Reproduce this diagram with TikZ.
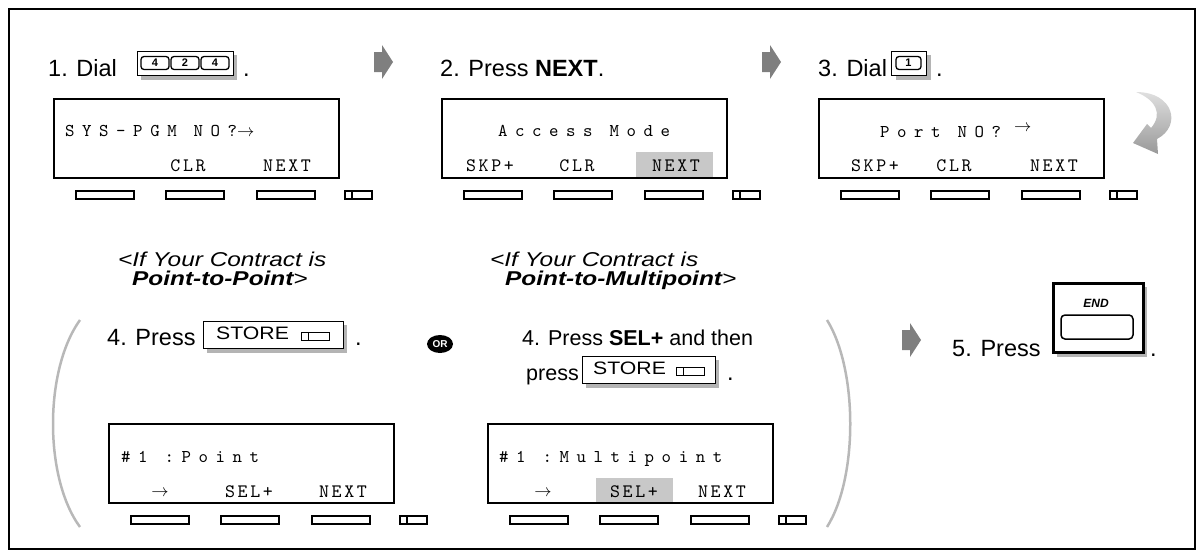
\documentclass[tikz,border=0pt]{standalone}
\usepackage{fontspec}
\setmainfont{Liberation Sans}
\newfontfamily\labelfont{Liberation Sans}[FakeStretch=1.22]
\newfontfamily\storefont{Liberation Sans}[FakeStretch=1.18]
\newfontfamily\lcdfont{lmmono10-regular}[Extension=.otf,LetterSpace=42]
\newfontfamily\lcdkeyfont{lmmono10-regular}[Extension=.otf,LetterSpace=14]
\usetikzlibrary{shapes.geometric}
\definecolor{shadowgray}{HTML}{B4B4B4}
\definecolor{hlgray}{HTML}{C8C8C8}
\definecolor{arrowgray}{HTML}{7F7F7F}
\definecolor{parengray}{HTML}{B8B8B8}
\newcommand\softkeyrow[2]{%
  \foreach \a/\b in {23/81,113/171,204/262}{%
    \draw[btn] ({#1+\a},{#2+14}) rectangle ({#1+\b},{#2+22});}
  \draw[btn] ({#1+292},{#2+14}) rectangle ({#1+319},{#2+22});
  \draw[btn] ({#1+299},{#2+14}) -- ({#1+299},{#2+22});}
\newcommand\blockarrow[2]{%
  \fill[arrowgray] ({#1},{#2-10}) -- ({#1+8},{#2-10}) -- ({#1+8},{#2-17}) -- ({#1+19},{#2}) -- ({#1+8},{#2+17}) -- ({#1+8},{#2+10}) -- ({#1},{#2+10}) -- cycle;}
\newcommand\lcdarrow{{\fontsize{17}{17}\selectfont$\rightarrow$}}
\begin{document}
\begin{tikzpicture}[x=1pt,y=-1pt,
  lcd/.style={draw=black,line width=2.4pt,minimum width=285pt,minimum height=79pt,inner sep=0pt,anchor=north west},
  btn/.style={draw=black,line width=1.3pt},
  lcdtxt/.style={font=\lcdfont\fontsize{18}{18}\selectfont,inner sep=0pt,anchor=base west},
  lcdmid/.style={font=\lcdfont\fontsize{18}{18}\selectfont,inner sep=0pt,anchor=base},
  keylbl/.style={font=\lcdkeyfont\fontsize{19}{19}\selectfont,inner sep=0pt,anchor=base},
  steptxt/.style={font=\fontsize{23.5}{23.5}\selectfont,inner sep=0pt,anchor=base west},
  lbl/.style={font=\labelfont\itshape\fontsize{20}{20}\selectfont,inner sep=0pt,anchor=base west},
  keybox/.style={draw=black,fill=white,line width=1pt,inner sep=0pt,anchor=north west},
  digitkey/.style={draw=black,line width=1.3pt,rounded corners=3pt,minimum width=28pt,minimum height=13pt,inner sep=0pt,font=\bfseries\fontsize{11}{11}\selectfont},
  storetxt/.style={font=\storefont\fontsize{18}{18}\selectfont,inner sep=0pt,anchor=base west},
  paren/.style={draw=parengray,line width=2.5pt},
  orbadge/.style={ellipse,fill=black,text=white,minimum width=26pt,minimum height=18pt,inner sep=0pt,font=\bfseries\fontsize{10}{10}\selectfont}
]
\useasboundingbox (0,0) rectangle (1202,555);
\node[draw=black,line width=1.6pt,minimum width=1186pt,minimum height=540pt,inner sep=0pt,anchor=north west] (frame) at (8,8) {};

% ---------- step 1
\node[steptxt] (s1) at (48,76) {1. Dial};
\fill[shadowgray] (141,55) rectangle (237,80);
\node[keybox,minimum width=96pt,minimum height=24pt] (k1) at (137,51) {};
\node[digitkey] (k1a) at (155,63) {4};
\node[digitkey] (k1b) at (185,63) {2};
\node[digitkey] (k1c) at (215,63) {4};
\node[steptxt] (d1) at (243,76) {.};
\blockarrow{374}{62}

\node[lcd] (lcd1) at (53,98) {};
\node[lcdtxt] (l1t) at (65,136) {SYS-PGM NO?\lcdarrow};
\node[keylbl] (l1k2) at (188,171) {CLR};
\node[keylbl] (l1k3) at (287,171) {NEXT};
\softkeyrow{53}{177}

% ---------- step 2
\node[steptxt] (s2) at (440,76) {2. Press \textbf{NEXT}.};
\blockarrow{762}{62}
\fill[hlgray] (636,152) rectangle (713,177);
\node[lcd] (lcd2) at (441,98) {};
\node[lcdmid] (l2t) at (584,136) {Access Mode};
\node[keylbl] (l2k1) at (490,171) {SKP+};
\node[keylbl] (l2k2) at (577,171) {CLR};
\node[keylbl] (l2k3) at (676,171) {NEXT};
\softkeyrow{441}{177}

% ---------- step 3
\node[steptxt] (s3) at (818,76) {3. Dial};
\fill[shadowgray] (896,55) rectangle (931,80);
\node[keybox,minimum width=35pt,minimum height=24pt] (k3) at (891,51) {};
\node[digitkey,minimum width=25pt] (k3a) at (908.5,63) {1};
\node[steptxt] (d3) at (936,76) {.};

\node[lcd] (lcd3) at (818,98) {};
\node[lcdtxt] (l3t) at (880,137) {Port NO?};
\node[inner sep=0pt,anchor=base west] (l3a) at (1014,131) {\lcdarrow};
\node[keylbl] (l3k1) at (875,171) {SKP+};
\node[keylbl] (l3k2) at (954,171) {CLR};
\node[keylbl] (l3k3) at (1054,171) {NEXT};
\softkeyrow{818}{177}

\shade[top color=gray!25,bottom color=gray!80]
  (1136,92) .. controls (1174,92) and (1182,126) .. (1157,139)
  -- (1158,154) -- (1133,143) -- (1147,124) -- (1151,128)
  .. controls (1163,114) and (1156,100) .. (1136,92) -- cycle;

% ---------- contract labels
\node[lbl] (c1a) at (118,266) {<If Your Contract is};
\node[lbl] (c1b) at (132,285) {\bfseries Point-to-Point\mdseries>};
\node[lbl] (c2a) at (490,266) {<If Your Contract is};
\node[lbl] (c2b) at (505,285) {\bfseries Point-to-Multipoint\mdseries>};

% ---------- parens
\draw[paren] (80,320) .. controls (44,370) and (44,478) .. (80,527);
\draw[paren] (827,320) .. controls (858,370) and (858,478) .. (827,527);

% ---------- step 4 (left)
\node[steptxt] (s4a) at (107,345) {4. Press};
\fill[shadowgray] (207,325) rectangle (347,353);
\node[keybox,minimum width=140pt,minimum height=27pt] (st1) at (203,321) {};
\node[storetxt] (st1t) at (216,339) {STORE};
\draw[btn,line width=1pt] (301,332) rectangle (329,340);
\draw[btn,line width=1pt] (308,332) -- (308,340);
\node[steptxt] (d4a) at (355,345) {.};

\node[orbadge] (or) at (440,344) {OR};

% ---------- step 4 (middle)
\node[steptxt,font=\fontsize{21.5}{21.5}\selectfont] (s4b) at (522,345) {4. Press \textbf{SEL+} and then};
\node[steptxt,font=\fontsize{21.5}{21.5}\selectfont] (p4b) at (526,380) {press};
\fill[shadowgray] (586,360) rectangle (719,388);
\node[keybox,minimum width=133pt,minimum height=27pt] (st2) at (582,356) {};
\node[storetxt] (st2t) at (593,374) {STORE};
\draw[btn,line width=1pt] (676,367) rectangle (704,375);
\draw[btn,line width=1pt] (683,367) -- (683,375);
\node[steptxt] (d4b) at (727,380) {.};

% ---------- row 2 LCDs
\node[lcd] (lcd4) at (108,423) {};
\node[lcdtxt] (l4t) at (121,462) {\#1 :Point};
\node[inner sep=0pt,anchor=base] (l4k1) at (160,496) {\lcdarrow};
\node[keylbl] (l4k2) at (249,497) {SEL+};
\node[keylbl] (l4k3) at (343,497) {NEXT};
\softkeyrow{108}{502}

\fill[hlgray] (596,478) rectangle (673,502);
\node[lcd] (lcd5) at (487,423) {};
\node[lcdtxt] (l5t) at (499,462) {\#1 :Multipoint};
\node[inner sep=0pt,anchor=base] (l5k1) at (543,496) {\lcdarrow};
\node[keylbl] (l5k2) at (634,497) {SEL+};
\node[keylbl] (l5k3) at (722,497) {NEXT};
\softkeyrow{487}{502}

% ---------- step 5
\blockarrow{902}{340}
\node[steptxt] (s5) at (952,356) {5. Press};
\fill[shadowgray] (1057,287) rectangle (1147,357);
\node[keybox,line width=2.5pt,minimum width=90pt,minimum height=69pt] (endk) at (1052,282) {};
\node[draw=black,line width=1.5pt,rounded corners=4pt,minimum width=72pt,minimum height=24pt,inner sep=0pt] (endkey) at (1097,327) {};
\node[inner sep=0pt,font=\bfseries\itshape\fontsize{12}{12}\selectfont] (endlbl) at (1096,303) {END};
\node[steptxt] (d5) at (1150,356) {.};
\end{tikzpicture}
\end{document}
